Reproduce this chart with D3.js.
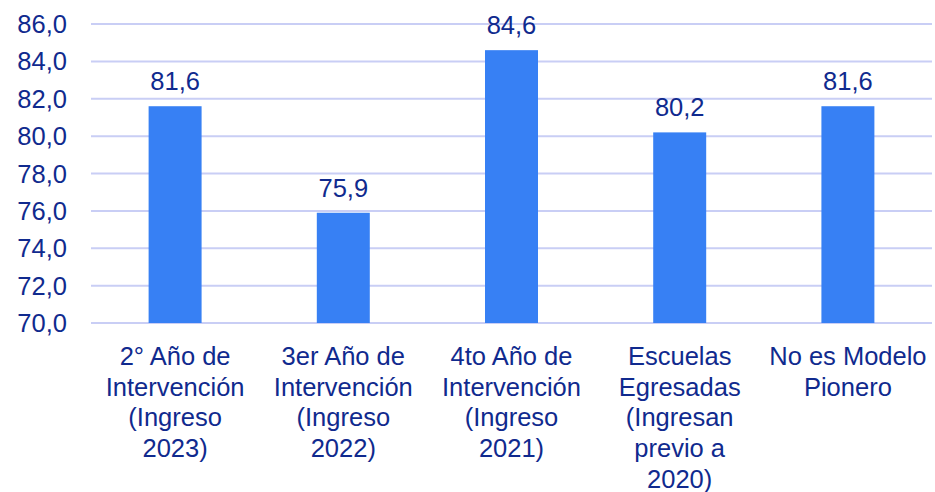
<!DOCTYPE html>
<html>
<head>
<meta charset="utf-8">
<script src="https://cdn.jsdelivr.net/npm/d3@7"></script>
<style>
  body { margin: 0; background: #fff; }
  text { font-family: "Liberation Sans", Arial, sans-serif; fill: #102a8e; }
</style>
</head>
<body>
<div id="chart"></div>
<script>
var categorias = [
  ["2° Año de", "Intervención", "(Ingreso", "2023)"],
  ["3er Año de", "Intervención", "(Ingreso", "2022)"],
  ["4to Año de", "Intervención", "(Ingreso", "2021)"],
  ["Escuelas", "Egresadas", "(Ingresan", "previo a", "2020)"],
  ["No es Modelo", "Pionero"]
];
var valores = [81.6, 75.9, 84.6, 80.2, 81.6];
var ticksY = [70, 72, 74, 76, 78, 80, 82, 84, 86];

var width = 935, height = 492;
var mLeft = 91, mRight = 932, mTop = 24, mBottom = 323;
var fs = 25.5;

var svg = d3.select("#chart").append("svg")
    .attr("width", width)
    .attr("height", height);

var x = d3.scaleBand()
    .domain(d3.range(valores.length))
    .range([mLeft, mRight])
    .paddingInner(0.685)
    .paddingOuter(0.3425);

var y = d3.scaleLinear()
    .domain([70, 86])
    .range([mBottom, mTop]);

// lineas de la grilla
svg.append("g").selectAll("line")
    .data(ticksY)
    .enter().append("line")
    .attr("x1", mLeft).attr("x2", mRight)
    .attr("y1", function(d){ return y(d); })
    .attr("y2", function(d){ return y(d); })
    .attr("stroke", "#c9cef5")
    .attr("stroke-width", 2);

// etiquetas eje y
var fmt = function(d){ return d3.format(".1f")(d).replace(".", ","); };
svg.append("g").selectAll("text")
    .data(ticksY)
    .enter().append("text")
    .attr("x", 67)
    .attr("y", function(d){ return y(d) + 9; })
    .attr("text-anchor", "end")
    .attr("font-size", fs)
    .text(fmt);

// barras
svg.append("g").selectAll("rect")
    .data(valores)
    .enter().append("rect")
    .attr("x", function(d, i){ return x(i); })
    .attr("width", x.bandwidth())
    .attr("y", function(d){ return y(d); })
    .attr("height", function(d){ return mBottom - y(d); })
    .attr("fill", "#3780f4");

// valores sobre las barras
svg.append("g").selectAll("text")
    .data(valores)
    .enter().append("text")
    .attr("x", function(d, i){ return x(i) + x.bandwidth()/2; })
    .attr("y", function(d){ return y(d) - 16; })
    .attr("text-anchor", "middle")
    .attr("font-size", fs)
    .text(fmt);

// etiquetas categorias
var cat = svg.append("g").selectAll("text")
    .data(categorias)
    .enter().append("text")
    .attr("text-anchor", "middle")
    .attr("font-size", fs);
cat.each(function(lines, i){
  var t = d3.select(this);
  lines.forEach(function(l, j){
    t.append("tspan")
      .attr("x", x(i) + x.bandwidth()/2)
      .attr("y", 365 + j * 30.7)
      .text(l);
  });
});
</script>
</body>
</html>
